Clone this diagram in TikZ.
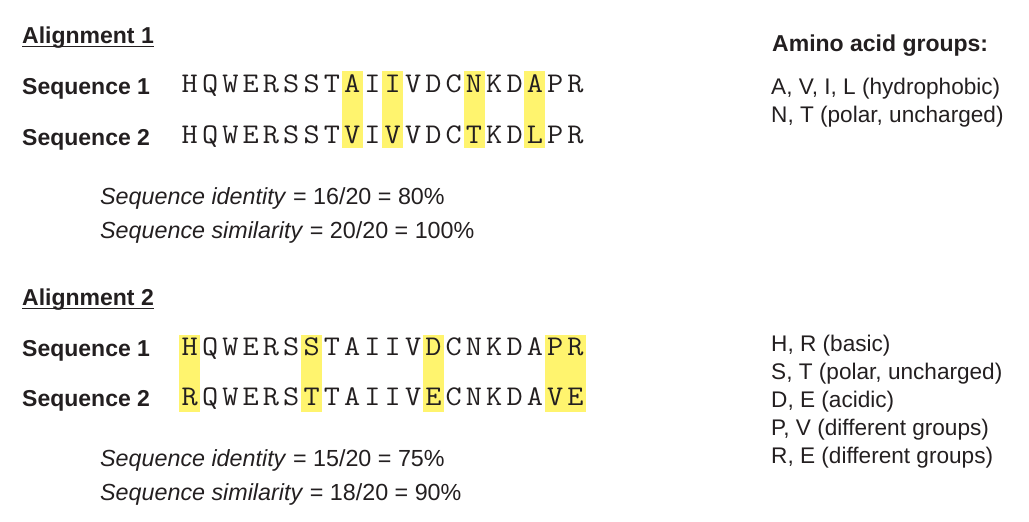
\documentclass[tikz,border=0pt]{standalone}
\usepackage{fontspec}
\setmainfont{Liberation Sans}
\newfontfamily\seqfont[FakeStretch=1.1]{Latin Modern Mono}
\definecolor{hlyellow}{RGB}{255,244,110}
\definecolor{ink}{RGB}{35,31,32}
\begin{document}
\begin{tikzpicture}[x=1pt,y=-1pt,
  txt/.style={anchor=base west,inner sep=0pt,text=ink,font=\fontsize{22.6}{27}\selectfont},
  itxt/.style={txt,font=\fontsize{23.3}{27}\selectfont},
  btxt/.style={txt,font=\fontsize{23}{27}\selectfont\bfseries},
  seqch/.style={anchor=base,inner sep=0pt,text=ink,font=\fontsize{28.5}{30}\selectfont\seqfont},
  hl/.style={fill=hlyellow,draw=none}]
\useasboundingbox (0,0) rectangle (1029,522);
% highlights alignment 1
\foreach \i in {8,10,14,17} \fill[hl] ({179.3+20.3*\i},71) rectangle ++(21,77);
% highlights alignment 2
\foreach \i in {0,6,12} \fill[hl] ({179.3+20.3*\i},335) rectangle ++(21,77);
\fill[hl] ({179.3+20.3*18},335) rectangle ++(41.3,77);
% headers
\node[btxt] (al1) at (22,43) {Alignment 1};
\draw[ink,line width=1.5pt] ([yshift=-3.5pt]al1.base west) -- ([yshift=-3.5pt]al1.base east);
\node[btxt] (al2) at (22,305) {Alignment 2};
\draw[ink,line width=1.5pt] ([yshift=-3.5pt]al2.base west) -- ([yshift=-3.5pt]al2.base east);
% labels
\node[btxt] (l11) at (22,94) {Sequence 1};
\node[btxt] (l12) at (22,145) {Sequence 2};
\node[btxt] (l21) at (22,356) {Sequence 1};
\node[btxt] (l22) at (22,406) {Sequence 2};
% sequences
\foreach \c [count=\i from 0] in {H,Q,W,E,R,S,S,T,A,I,I,V,D,C,N,K,D,A,P,R}
  \node[seqch] (a1s1-\i) at ({189.8+20.3*\i},92) {\c};
\foreach \c [count=\i from 0] in {H,Q,W,E,R,S,S,T,V,I,V,V,D,C,T,K,D,L,P,R}
  \node[seqch] (a1s2-\i) at ({189.8+20.3*\i},143) {\c};
\foreach \c [count=\i from 0] in {H,Q,W,E,R,S,S,T,A,I,I,V,D,C,N,K,D,A,P,R}
  \node[seqch] (a2s1-\i) at ({189.8+20.3*\i},355) {\c};
\foreach \c [count=\i from 0] in {R,Q,W,E,R,S,T,T,A,I,I,V,E,C,N,K,D,A,V,E}
  \node[seqch] (a2s2-\i) at ({189.8+20.3*\i},405) {\c};
% identity/similarity
\node[itxt] (id1) at (100,204) {\textit{Sequence identity} = 16/20 = 80\%};
\node[itxt] (si1) at (100,238) {\textit{Sequence similarity} = 20/20 = 100\%};
\node[itxt] (id2) at (100,466) {\textit{Sequence identity} = 15/20 = 75\%};
\node[itxt] (si2) at (100,500) {\textit{Sequence similarity} = 18/20 = 90\%};
% amino acid groups
\node[btxt] (grp) at (772,51) {Amino acid groups:};
\node[txt] (g1) at (771,94) {A, V, I, L (hydrophobic)};
\node[txt] (g2) at (771,122) {N, T (polar, uncharged)};
\node[txt] (g3) at (771,351) {H, R (basic)};
\node[txt] (g4) at (771,379) {S, T (polar, uncharged)};
\node[txt] (g5) at (771,407) {D, E (acidic)};
\node[txt] (g6) at (771,435) {P, V (different groups)};
\node[txt] (g7) at (771,463) {R, E (different groups)};
\end{tikzpicture}
\end{document}
